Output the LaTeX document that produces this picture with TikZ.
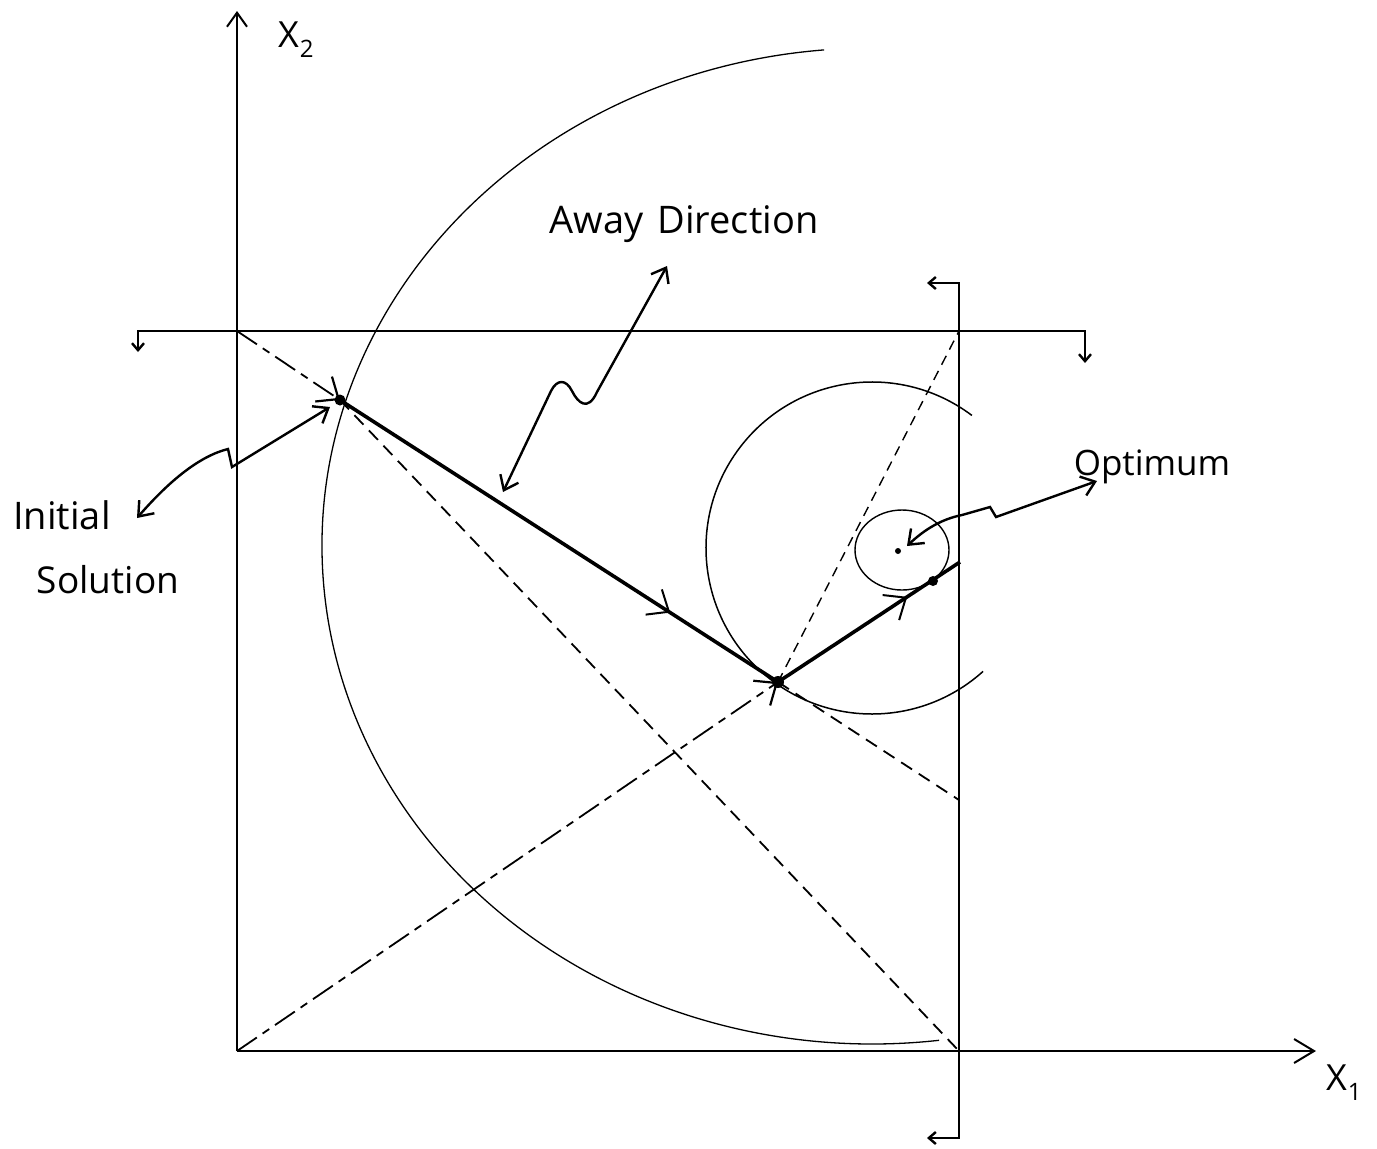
\documentclass[tikz,border=0pt]{standalone}
\usepackage{fontspec}
\setmainfont{Open Sans}
\usetikzlibrary{arrows.meta,decorations.markings}
\begin{document}
\begin{tikzpicture}[x=1pt,y=-1pt,
  axisline/.style={line width=2pt},
  boxline/.style={line width=2pt},
  thickpath/.style={line width=3.6pt},
  thinarc/.style={line width=1.3pt},
  dashline/.style={line width=1.8pt, dash pattern=on 13pt off 8pt},
  thindash/.style={line width=1.4pt, dash pattern=on 10pt off 7pt},
  dashdotline/.style={line width=1.8pt, dash pattern=on 24pt off 7pt on 8pt off 7pt},
  bigbarb/.style={-{Straight Barb[length=18pt,width=30pt,line width=2.2pt]}},
  smallbarb/.style={{Straight Barb[length=7pt,width=12pt,line width=2.4pt]}-{Straight Barb[length=7pt,width=12pt,line width=2.4pt]}},
  wavy/.style={line width=2.4pt, {Straight Barb[length=13pt,width=20pt]}-{Straight Barb[length=13pt,width=20pt]}},
  midarrow/.style={postaction={decorate}, decoration={markings,
     mark=at position #1 with {\arrow{Straight Barb[length=18pt,width=30pt,line width=2pt]}}}},
  dot/.style={circle, fill=black, inner sep=0pt, minimum size=#1},
  lbl/.style={inner sep=0pt}
]
\useasboundingbox (0,0) rectangle (1377,1149);
\fill[white] (0,0) rectangle (1377,1149);

% key points
\coordinate (O) at (237,1051);
\coordinate (TL) at (237,331);
\coordinate (TR) at (959,331);
\coordinate (BR) at (959,1051);
\coordinate (YT) at (237,11);
\coordinate (XT) at (1316,1051);
\coordinate (P0) at (340,400);
\coordinate (P1) at (778,682);
\coordinate (P2) at (960,562);
\coordinate (E) at (959,800);
\coordinate (LT) at (138,352);
\coordinate (LC) at (138,331);
\coordinate (RC) at (1085,331);
\coordinate (RT) at (1085,363);
\coordinate (VT) at (927,283);
\coordinate (VTc) at (959,283);
\coordinate (VBc) at (959,1138);
\coordinate (VB) at (927,1138);
\coordinate (C1) at (872,546);
\coordinate (C2) at (872,548);

% axes
\draw[axisline, -{Straight Barb[length=14pt,width=20pt]}] (O) -- (YT);
\draw[axisline, -{Straight Barb[length=20pt,width=24pt]}] (O) -- (XT);

% constraint lines
\draw[boxline, smallbarb] (LT) -- (LC) -- (RC) -- (RT);
\draw[boxline, smallbarb] (VT) -- (VTc) -- (VBc) -- (VB);

% big level curve
\draw[thinarc] (C1) ++(-95:550 and 498) arc[start angle=-95, end angle=-277, x radius=550, y radius=498];

% medium level curve
\draw[line width=1.5pt] (C2) ++(-53:166) arc[start angle=-53, end angle=-312, radius=166];

% small level curve
\draw[line width=1.4pt] (902,550) ellipse [x radius=47, y radius=40];

% dashed / dash-dot lines
\draw[dashline] (P0) -- (BR);
\draw[dashdotline, bigbarb] (TL) -- (P0);
\draw[dashdotline, bigbarb] (O) -- (P1);
\draw[thindash] (P1) -- (TR);
\draw[dashline] (P1) -- (E);

% solution path
\draw[thickpath, midarrow=0.754] (P0) -- (P1);
\draw[thickpath, midarrow=0.71] (P1) -- (P2);

% points
\node[dot=11pt] (n0) at (P0) {};
\node[dot=12pt] (n1) at (P1) {};
\node[dot=10pt] (n2) at (933,581) {};
\node[dot=6pt] (nopt) at (898,551) {};

% labels
\node[lbl, anchor=base west] (x2) at (278,47) {\fontsize{36}{36}\selectfont X\kern1pt\raisebox{-10pt}{\fontsize{24}{24}\selectfont 2}};
\node[lbl, anchor=base west] (x1) at (1326,1090) {\fontsize{36}{36}\selectfont X\kern1pt\raisebox{-10pt}{\fontsize{24}{24}\selectfont 1}};
\node[lbl, anchor=base] (away) at (684,233) {\fontsize{38}{38}\selectfont Away\hspace{14pt}Direction};
\node[lbl, anchor=base] (optl) at (1152,475) {\fontsize{35}{35}\selectfont Optimum};
\node[lbl, anchor=base] (init) at (62,529) {\fontsize{38}{38}\selectfont Initial};
\node[lbl, anchor=base] (sol) at (108,593) {\fontsize{37}{37}\selectfont Solution};

% pointer arrows
\coordinate (ia) at (137,518);
\coordinate (ib) at (330,407);
\draw[wavy] (ia) .. controls (170,480) and (200,456) .. (228,449) -- (232,467) -- (ib);
\coordinate (aa) at (503,492);
\coordinate (ab) at (667,266);
\draw[wavy] (aa) -- (551,391) .. controls (557,379) and (566,379) .. (572,391) .. controls (578,403) and (588,412) .. (597,392) -- (ab);
\coordinate (oa) at (907,546);
\coordinate (ob) at (1097,481);
\draw[wavy] (oa) .. controls (925,529) and (942,519) .. (962,515) -- (990,507) -- (996,517) -- (ob);
\end{tikzpicture}
\end{document}
